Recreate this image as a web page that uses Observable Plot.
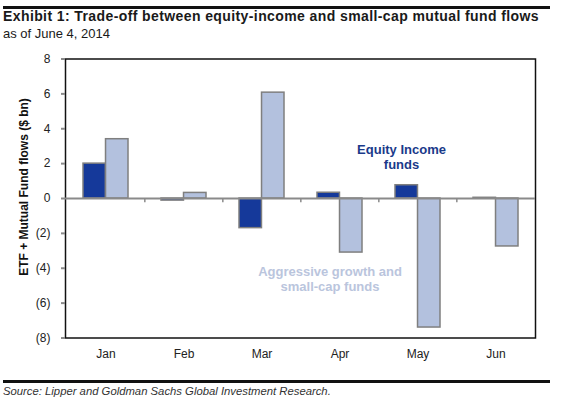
<!DOCTYPE html>
<html>
<head>
<meta charset="utf-8">
<script src="https://cdn.jsdelivr.net/npm/d3@7"></script>
<script src="https://cdn.jsdelivr.net/npm/@observablehq/plot@0.6"></script>
<style>
  html, body { margin: 0; padding: 0; background: #fff; }
  #wrap { position: relative; width: 563px; height: 407px; font-family: "Liberation Sans", Arial, sans-serif; color: #1a1a1a; overflow: hidden; }
  #wrap svg { position: absolute; left: 0; top: 0; }
  .rule { position: absolute; left: 3px; width: 547px; height: 2.5px; background: #111; }
  .title { position: absolute; left: 3px; top: 8px; font-size: 14px; letter-spacing: 0.4px; font-weight: bold; line-height: 17px; white-space: nowrap; }
  .subtitle { position: absolute; left: 3px; top: 25px; font-size: 13px; line-height: 17px; white-space: nowrap; }
  .source { position: absolute; left: 3px; top: 384px; font-size: 11.3px; font-style: italic; line-height: 14px; color: #333; white-space: nowrap; }
</style>
</head>
<body>
<div id="wrap">
  <div class="rule" style="top:6px"></div>
  <div class="title" id="title"></div>
  <div class="subtitle" id="subtitle"></div>
  <div class="rule" style="top:380px"></div>
  <div class="source" id="source"></div>
</div>
<script>
const titleText = "Exhibit 1: Trade-off between equity-income and small-cap mutual fund flows";
const subtitleText = "as of June 4, 2014";
const sourceText = "Source: Lipper and Goldman Sachs Global Investment Research.";
const yLabel = "ETF + Mutual Fund flows ($ bn)";

const months = ["Jan", "Feb", "Mar", "Apr", "May", "Jun"];
const equityIncome = [2.0, -0.12, -1.7, 0.33, 0.76, 0.04];
const aggressiveGrowth = [3.4, 0.32, 6.07, -3.1, -7.4, -2.75];
const yTicks = [-8, -6, -4, -2, 0, 2, 4, 6, 8];

const equityLabel = "Equity Income\nfunds";
const aggressiveLabel = "Aggressive growth and\nsmall-cap funds";

const darkBlue = "#15399a";
const lightBlue = "#b3c1de";
const barStroke = "#7f7f7f";

document.getElementById("title").textContent = titleText;
document.getElementById("subtitle").textContent = subtitleText;
document.getElementById("source").textContent = sourceText;

const width = 563, height = 407;
const marginLeft = 65, marginRight = 28, marginTop = 58.5, marginBottom = 69.5;
const paddingInner = 0.425;
const step = (width - marginLeft - marginRight) / months.length;
const bandwidth = step * (1 - paddingInner);

const eqData = months.map((m, i) => ({month: m, value: equityIncome[i]}));
const agData = months.map((m, i) => ({month: m, value: aggressiveGrowth[i]}));

const chart = Plot.plot({
  width, height, marginLeft, marginRight, marginTop, marginBottom,
  style: {fontFamily: "Liberation Sans, Arial, sans-serif", fontSize: "12px", color: "#222", background: "transparent"},
  x: {domain: months, paddingInner, paddingOuter: paddingInner / 2, axis: null},
  y: {domain: [-8, 8], axis: null},
  marks: [
    Plot.frame({stroke: "#111", strokeWidth: 1.5}),
    Plot.barY(eqData, {x: "month", y: "value", fill: darkBlue, stroke: barStroke, strokeWidth: 1.5, insetRight: bandwidth / 2}),
    Plot.barY(agData, {x: "month", y: "value", fill: lightBlue, stroke: barStroke, strokeWidth: 1.5, insetLeft: bandwidth / 2}),
    Plot.ruleY([0], {stroke: "#8a8a8a", strokeWidth: 2}),
    Plot.ruleX(months.slice(1), {x: d => d, dx: -step / 2, y1: 0, y2: -0.25, stroke: "#8a8a8a", strokeWidth: 1.5}),
    Plot.axisY({ticks: yTicks, tickSize: 4, tickPadding: 11, line: true, stroke: "#8a8a8a", strokeWidth: 2, fill: "#222", fontSize: 12, label: null,
      tickFormat: d => d < 0 ? `(${-d})` : `${d}`}),
    Plot.axisX({tickSize: 0, tickPadding: 11, fontSize: 12, fill: "#222", label: null}),
    Plot.text([yLabel], {text: d => d, frameAnchor: "left", textAnchor: "middle", dx: -41, dy: -11.5, rotate: -90, fontWeight: "bold", fontSize: 12, fill: "#111"}),
    Plot.text([equityLabel], {text: d => d, x: () => "May", y: () => 2.4, dx: -16.5, fontWeight: "bold", fontSize: 13, fill: "#1a3a8a", lineHeight: 1.2}),
    Plot.text([aggressiveLabel], {text: d => d, x: () => "Apr", y: () => -4.6, dx: -10, fontWeight: "bold", fontSize: 13, fill: "#bac5dd", lineHeight: 1.2})
  ]
});
document.getElementById("wrap").appendChild(chart);
</script>
</body>
</html>
